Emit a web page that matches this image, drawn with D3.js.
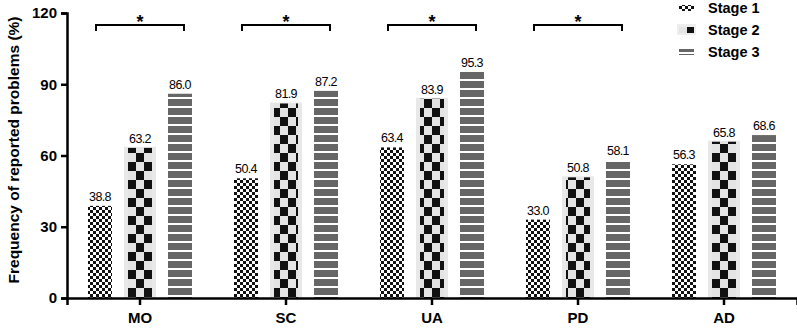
<!doctype html>
<html lang="en">
<head>
<meta charset="utf-8">
<script src="https://d3js.org/d3.v7.min.js"></script>
<style>
  body { margin: 0; background: #fff; }
  text { font-family: "Liberation Sans", Arial, sans-serif; }
</style>
</head>
<body>
<script>
var categories = ["MO", "SC", "UA", "PD", "AD"];
var stages = ["Stage 1", "Stage 2", "Stage 3"];
var stage1 = [38.8, 50.4, 63.4, 33.0, 56.3];
var stage2 = [63.2, 81.9, 83.9, 50.8, 65.8];
var stage3 = [86.0, 87.2, 95.3, 58.1, 68.6];
var significant = ["MO", "SC", "UA", "PD"];
var yTicks = [0, 30, 60, 90, 120];

var width = 797, height = 330;
var svg = d3.select("body").append("svg")
    .attr("width", width).attr("height", height);

var defs = svg.append("defs");

// small checker for stage 1
var p1 = defs.append("pattern").attr("id", "pat1")
    .attr("patternUnits", "userSpaceOnUse").attr("width", 6).attr("height", 6);
p1.append("rect").attr("width", 6).attr("height", 6).attr("fill", "#fff");
p1.append("rect").attr("width", 3).attr("height", 3).attr("fill", "#111");
p1.append("rect").attr("x", 3).attr("y", 3).attr("width", 3).attr("height", 3).attr("fill", "#111");

// big checker for stage 2
var p2 = defs.append("pattern").attr("id", "pat2")
    .attr("patternUnits", "userSpaceOnUse").attr("width", 16).attr("height", 18);
p2.append("rect").attr("width", 16).attr("height", 18).attr("fill", "#e4e4e4");
p2.append("rect").attr("width", 8).attr("height", 9).attr("fill", "#111");
p2.append("rect").attr("x", 8).attr("y", 9).attr("width", 8).attr("height", 9).attr("fill", "#111");

// stripes for stage 3
var p3 = defs.append("pattern").attr("id", "pat3")
    .attr("patternUnits", "userSpaceOnUse").attr("width", 8).attr("height", 9);
p3.append("rect").attr("width", 8).attr("height", 9).attr("fill", "#fff");
p3.append("rect").attr("width", 8).attr("height", 7).attr("fill", "#666");

var x = d3.scaleBand().domain(categories).range([67, 797]);
var y = d3.scaleLinear().domain([0, 120]).range([298, 13]);
var offsets = [-40, 0, 40];
var barW = 24;

var series = [stage1, stage2, stage3];
var fills = ["url(#pat1)", "url(#pat2)", "url(#pat3)"];

series.forEach(function (vals, s) {
  var data = categories.map(function (c, i) { return { c: c, v: vals[i] }; });
  var g = svg.append("g");
  if (s === 1) {
    g.selectAll("rect.bg").data(data).enter().append("rect")
      .attr("class", "bg")
      .attr("x", d => x(d.c) + x.bandwidth() / 2 + offsets[s] - barW / 2 - 4)
      .attr("y", d => y(d.v) - 1)
      .attr("width", barW + 8)
      .attr("height", d => y(0) - y(d.v) + 1)
      .attr("fill", "#e8e8e8");
  }
  g.selectAll("rect.bar").data(data).enter().append("rect")
    .attr("class", "bar")
    .attr("x", d => x(d.c) + x.bandwidth() / 2 + offsets[s] - barW / 2)
    .attr("y", d => y(d.v))
    .attr("width", barW)
    .attr("height", d => y(0) - y(d.v))
    .attr("fill", fills[s]);
  g.selectAll("text").data(data).enter().append("text")
    .attr("x", d => x(d.c) + x.bandwidth() / 2 + offsets[s])
    .attr("y", d => y(d.v) - 5)
    .attr("text-anchor", "middle")
    .attr("font-size", 12.5)
    .attr("letter-spacing", -0.6)
    .text(d => d.v.toFixed(1));
});

// significance brackets
var br = svg.append("g");
significant.forEach(function (c) {
  var cx = x(c) + x.bandwidth() / 2;
  var x0 = cx + offsets[0] - 4, x1 = cx + offsets[2] + 4, yb = 25;
  br.append("path")
    .attr("d", "M" + x0 + "," + (yb + 6) + "V" + yb + "H" + x1 + "V" + (yb + 6))
    .attr("fill", "none").attr("stroke", "#000").attr("stroke-width", 2);
  br.append("text").attr("x", cx).attr("y", 28)
    .attr("text-anchor", "middle").attr("font-size", 18).attr("font-weight", "bold")
    .text("*");
});

// axes
var xAxis = svg.append("g").attr("transform", "translate(0,298)")
  .call(d3.axisBottom(x).tickSize(7).tickPadding(7));
xAxis.select(".domain").attr("stroke-width", 2.5);
xAxis.selectAll(".tick line").attr("stroke-width", 2.5);
xAxis.selectAll("text").attr("font-size", 15).attr("font-weight", "bold")
  .attr("font-family", "Liberation Sans, Arial, sans-serif").attr("fill", "#000");

var yAxis = svg.append("g").attr("transform", "translate(67,0)")
  .call(d3.axisLeft(y).tickValues(yTicks).tickSize(6).tickPadding(4));
yAxis.select(".domain").attr("stroke-width", 2.5);
yAxis.selectAll(".tick line").attr("stroke-width", 2.5);
yAxis.selectAll("text").attr("font-size", 15).attr("font-weight", "bold")
  .attr("font-family", "Liberation Sans, Arial, sans-serif").attr("fill", "#000");

svg.append("text")
  .attr("transform", "translate(19,150) rotate(-90)")
  .attr("text-anchor", "middle")
  .attr("font-size", 15.5).attr("font-weight", "bold")
  .text("Frequency of reported problems (%)");

// legend
var leg = svg.append("g").attr("transform", "translate(679,0)");
stages.forEach(function (s, i) {
  var yy = 8 + i * 22;
  if (i === 1) {
    leg.append("rect").attr("x", -2).attr("y", yy - 6).attr("width", 19).attr("height", 11).attr("fill", "#eee");
  }
  leg.append("rect").attr("x", 0).attr("y", yy - 3).attr("width", 15).attr("height", 6)
    .attr("fill", fills[i]);
  leg.append("text").attr("x", 29).attr("y", yy + 5)
    .attr("font-size", 14.5).attr("font-weight", "bold")
    .text(s);
});
</script>
</body>
</html>
